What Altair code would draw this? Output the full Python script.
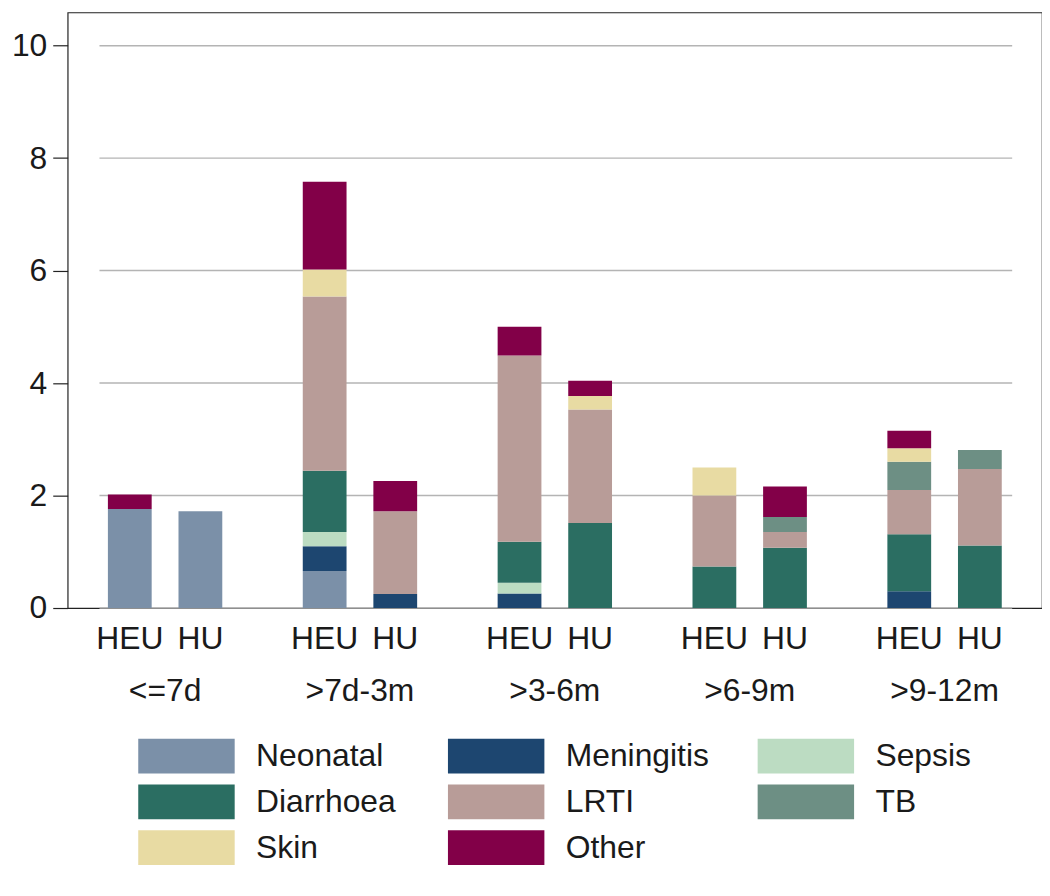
import altair as alt
import pandas as pd

# ---- data ----
groups = ["<=7d", ">7d-3m", ">3-6m", ">6-9m", ">9-12m"]
statuses = ["HEU", "HU"]
causes = ["Neonatal", "Meningitis", "Sepsis", "Diarrhoea", "LRTI", "TB", "Skin", "Other"]
colors = ["#7b90a8", "#1d4670", "#bcdcc2", "#2b6e62", "#b89c98", "#6d8f84", "#e8dba3", "#820048"]

# bar order: <=7d HEU, <=7d HU, >7d-3m HEU, >7d-3m HU, >3-6m HEU, >3-6m HU, >6-9m HEU, >6-9m HU, >9-12m HEU, >9-12m HU
neonatal   = [1.76, 1.72, 0.66, 0.00, 0.00, 0.00, 0.00, 0.00, 0.00, 0.00]
meningitis = [0.00, 0.00, 0.44, 0.25, 0.26, 0.00, 0.00, 0.00, 0.30, 0.00]
sepsis     = [0.00, 0.00, 0.25, 0.00, 0.19, 0.00, 0.00, 0.00, 0.00, 0.00]
diarrhoea  = [0.00, 0.00, 1.09, 0.00, 0.73, 1.51, 0.74, 1.07, 1.01, 1.11]
lrti       = [0.00, 0.00, 3.10, 1.47, 3.31, 2.02, 1.26, 0.28, 0.79, 1.36]
tb         = [0.00, 0.00, 0.00, 0.00, 0.00, 0.00, 0.00, 0.27, 0.50, 0.34]
skin       = [0.00, 0.00, 0.48, 0.00, 0.00, 0.24, 0.50, 0.00, 0.24, 0.00]
other      = [0.26, 0.00, 1.56, 0.54, 0.51, 0.27, 0.00, 0.54, 0.31, 0.00]

y_ticks = [0, 2, 4, 6, 8, 10]

series = {
    "Neonatal": neonatal, "Meningitis": meningitis, "Sepsis": sepsis,
    "Diarrhoea": diarrhoea, "LRTI": lrti, "TB": tb, "Skin": skin, "Other": other,
}

rows = []
for ci, c in enumerate(causes):
    for bi, v in enumerate(series[c]):
        if v > 0:
            rows.append({"group": groups[bi // 2], "status": statuses[bi % 2],
                         "cause": c, "idx": ci, "value": v})
df = pd.DataFrame(rows)

lab_df = pd.DataFrame([{"group": g, "status": s} for g in groups for s in statuses])
leg_df = pd.DataFrame({"cause": causes,
                       "col": [i % 3 for i in range(len(causes))],
                       "row": [i // 3 for i in range(len(causes))]})
grid_df = pd.DataFrame({"v": y_ticks})

# ---- layout / style ----
W, H = 980, 599
FONT = "Liberation Sans"
TXT = "#1a1a1a"
FS = 32

xscale = alt.Scale(domain=groups, paddingInner=0, paddingOuter=0)
xoff = alt.Scale(domain=statuses, paddingInner=0.38, paddingOuter=0.57)
yscale = alt.Scale(domain=[0, 10.59], nice=False, zero=True)
cscale = alt.Scale(domain=causes, range=colors)

grid = alt.Chart(grid_df).mark_rule(color="#b4b4b4", strokeWidth=1.5).encode(
    y=alt.Y("v:Q", scale=yscale,
            axis=alt.Axis(title=None, values=y_ticks, grid=False, domain=False,
                          ticks=True, tickSize=15, tickColor="#222", tickWidth=1.2,
                          labelPadding=6, labelFontSize=FS, labelFont=FONT,
                          labelColor=TXT)),
    x=alt.value(32),
    x2=alt.value(950),
)

bars = alt.Chart(df).mark_bar().encode(
    x=alt.X("group:N", scale=xscale,
            axis=alt.Axis(title=None, labelAngle=0, ticks=False, tickSize=0, domain=False,
                          labelPadding=93, labelBaseline="alphabetic",
                          labelFontSize=FS, labelFont=FONT, labelColor=TXT)),
    xOffset=alt.XOffset("status:N", scale=xoff),
    y=alt.Y("value:Q", stack="zero", scale=yscale, axis=None),
    color=alt.Color("cause:N", scale=cscale, legend=None),
    order=alt.Order("idx:Q", sort="ascending"),
)

status_text = alt.Chart(lab_df).mark_text(
    fontSize=FS, font=FONT, baseline="alphabetic", align="center", color=TXT
).encode(
    x=alt.X("group:N", scale=xscale, axis=None),
    xOffset=alt.XOffset("status:N", scale=xoff),
    y=alt.value(640),
    text="status:N",
)

lx = alt.Scale(domain=[0, 2], range=[119.5, 742.5], nice=False, zero=False)
ly = alt.Scale(domain=[0, 2], range=[748, 840], nice=False, zero=False)

swatch = alt.Chart(leg_df).mark_point(
    shape="M-1,-0.36H1V0.36H-1Z", size=9409, filled=True, opacity=1
).encode(
    x=alt.X("col:Q", scale=lx, axis=None),
    y=alt.Y("row:Q", scale=ly, axis=None),
    color=alt.Color("cause:N", scale=cscale, legend=None),
)

leg_text = alt.Chart(leg_df).mark_text(
    align="left", baseline="middle", dx=70, fontSize=FS, font=FONT, color=TXT
).encode(
    x=alt.X("col:Q", scale=lx, axis=None),
    y=alt.Y("row:Q", scale=ly, axis=None),
    text="cause:N",
)

chart = (
    alt.layer(grid, bars, status_text, swatch, leg_text)
    .resolve_scale(x="independent", y="independent")
    .properties(width=W, height=H,
                padding={"left": 3, "top": 2, "right": 0, "bottom": 0},
                background="white")
    .configure_view(stroke="#222", strokeWidth=1.2)
)

chart.save("out.html", embed_options={"renderer": "svg", "actions": False})
